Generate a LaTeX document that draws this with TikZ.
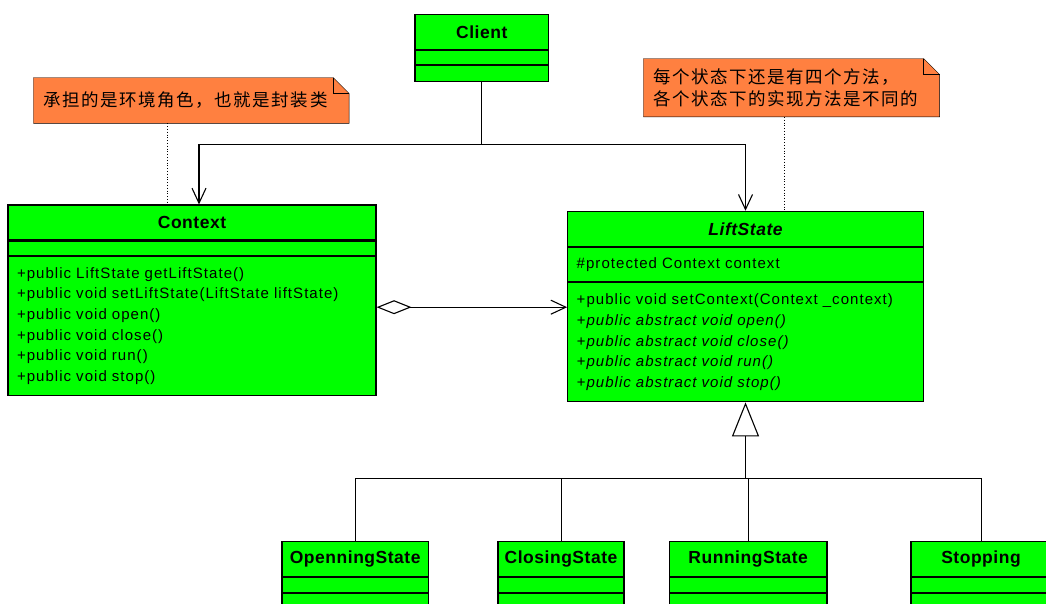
\documentclass[tikz,border=0pt]{standalone}
\usepackage{fontspec}
\setmainfont{Liberation Sans}[LetterSpace=7]
\newfontfamily\titlefont{Liberation Sans}[LetterSpace=3]
\newfontfamily\cjk{Noto Sans CJK SC}[LetterSpace=9]
\usepackage{tikz}
\usetikzlibrary{arrows.meta,positioning,backgrounds,calc}
\usepackage{xcolor}
\definecolor{classGreen}{HTML}{00FF00}
\definecolor{noteOrange}{HTML}{FF8040}

\begin{document}
\begin{tikzpicture}[x=1pt, y=-1pt, line width=1.1pt,
    every node/.style={font=\fontsize{15}{20.6}\selectfont},
    classname/.style={draw, fill=classGreen, font=\titlefont\fontsize{17.5}{18}\selectfont\bfseries, inner sep=0pt, minimum height=35pt},
    classpart/.style={draw, fill=classGreen, inner xsep=9pt, inner ysep=0pt, align=left},
    notebox/.style={inner xsep=9pt, inner ysep=0pt, align=left, font=\cjk\fontsize{17.5}{22.6}\selectfont},
    noteline/.style={dotted, line width=0.8pt},
    navig/.style={-{Straight Barb[length=15pt, width=14pt]}},
    aggr/.style={{Diamond[open, length=35pt, width=14pt]}-{Straight Barb[length=15pt, width=14pt]}},
    generalize/.style={-{Triangle[open, length=34pt, width=27pt]}}]
    \useasboundingbox (0,0) rectangle (1046,603);

    % classes
    \node[classname, minimum width=133.6pt] (client) at (481.8,31.8) {Client};
    \node[classpart, below=0pt of client, minimum width=133.6pt, minimum height=14pt] (clientAttr) {};
    \node[classpart, below=0pt of clientAttr, minimum width=133.6pt, minimum height=16pt] (clientOps) {};

    \node[classname, minimum width=368pt] (context) at (192,222.5) {Context};
    \node[classpart, below=0pt of context, minimum width=368pt, minimum height=14.3pt] (contextAttr) {};
    \node[classpart, below=0pt of contextAttr, minimum width=368pt, minimum height=139pt, text width=350pt] (contextOps) {+public LiftState getLiftState()\\+public void setLiftState(LiftState liftState)\\+public void open()\\+public void close()\\+public void run()\\+public void stop()};

    \node[classname, minimum width=355.6pt] (lift) at (745.5,228.8) {\itshape LiftState};
    \node[classpart, below=0pt of lift, minimum width=355.6pt, minimum height=34.3pt, text width=337.6pt] (liftAttr) {\#protected Context context};
    \node[classpart, below=0pt of liftAttr, minimum width=355.6pt, minimum height=119pt, text width=337.6pt] (liftOps) {+public void setContext(Context \_context)\\\itshape +public abstract void open()\\+public abstract void close()\\+public abstract void run()\\+public abstract void stop()};

    \node[classname, minimum width=146.4pt] (openState) at (355.2,559.2) {OpenningState};
    \node[classpart, below=0pt of openState, minimum width=146.4pt, minimum height=14.3pt] (openAttr) {};
    \node[classpart, below=0pt of openAttr, minimum width=146.4pt, minimum height=16pt] (openOps) {};

    \node[classname, minimum width=126pt] (closeState) at (561,559.2) {ClosingState};
    \node[classpart, below=0pt of closeState, minimum width=126pt, minimum height=14.3pt] (closeAttr) {};
    \node[classpart, below=0pt of closeAttr, minimum width=126pt, minimum height=16pt] (closeOps) {};

    \node[classname, minimum width=157.5pt] (runState) at (748.2,559.2) {RunningState};
    \node[classpart, below=0pt of runState, minimum width=157.5pt, minimum height=14.3pt] (runAttr) {};
    \node[classpart, below=0pt of runAttr, minimum width=157.5pt, minimum height=16pt] (runOps) {};

    \node[classname, minimum width=140pt] (stopState) at (981,559.2) {Stopping};
    \node[classpart, below=0pt of stopState, minimum width=140pt, minimum height=14.3pt] (stopAttr) {};
    \node[classpart, below=0pt of stopAttr, minimum width=140pt, minimum height=16pt] (stopOps) {};

    % notes
    \node[notebox, minimum width=314.6pt, minimum height=44.7pt, text width=296.6pt] (ctxNote) at (191.3,100.4) {承担的是环境角色，也就是封装类};
    \node[notebox, minimum width=295pt, minimum height=57.3pt, text width=277pt] (stateNote) at (791.5,87.7) {每个状态下还是有四个方法，\\各个状态下的实现方法是不同的};
    \begin{scope}[on background layer]
      \foreach \n in {ctxNote,stateNote} {
        \draw[fill=noteOrange] (\n.north west) -- ([xshift=-16pt]\n.north east) -- ([yshift=-16pt]\n.north east) -- (\n.south east) -- (\n.south west) -- cycle;
        \draw ([xshift=-16pt]\n.north east) |- ([yshift=-16pt]\n.north east);
      }
    \end{scope}
    \draw[noteline] ([xshift=-23.8pt]ctxNote.south) -- ([xshift=-23.8pt]ctxNote.south |- context.north);
    \draw[noteline] ([xshift=-7.5pt]stateNote.south) -- ([xshift=-7.5pt]stateNote.south |- lift.north);

    % connectors
    \draw[navig] (clientOps.south) -- ++(0,62.4) -| ([xshift=7pt]context.north);
    \draw[navig] (clientOps.south) -- ++(0,62.4) -| (lift.north);
    \draw[aggr] ([yshift=18.8pt]contextOps.east) -- ([yshift=18.8pt]contextOps.east -| liftOps.west);

    \coordinate (bus) at (745.5,478.3);
    \draw[generalize] (bus) -- (liftOps.south);
    \draw[line width=0.9pt] (openState.north) |- (bus);
    \draw[line width=0.9pt] (closeState.north) |- (bus);
    \draw[line width=0.9pt] (runState.north) |- (bus);
    \draw[line width=0.9pt] (stopState.north) |- (bus);
  \end{tikzpicture}
\end{document}
